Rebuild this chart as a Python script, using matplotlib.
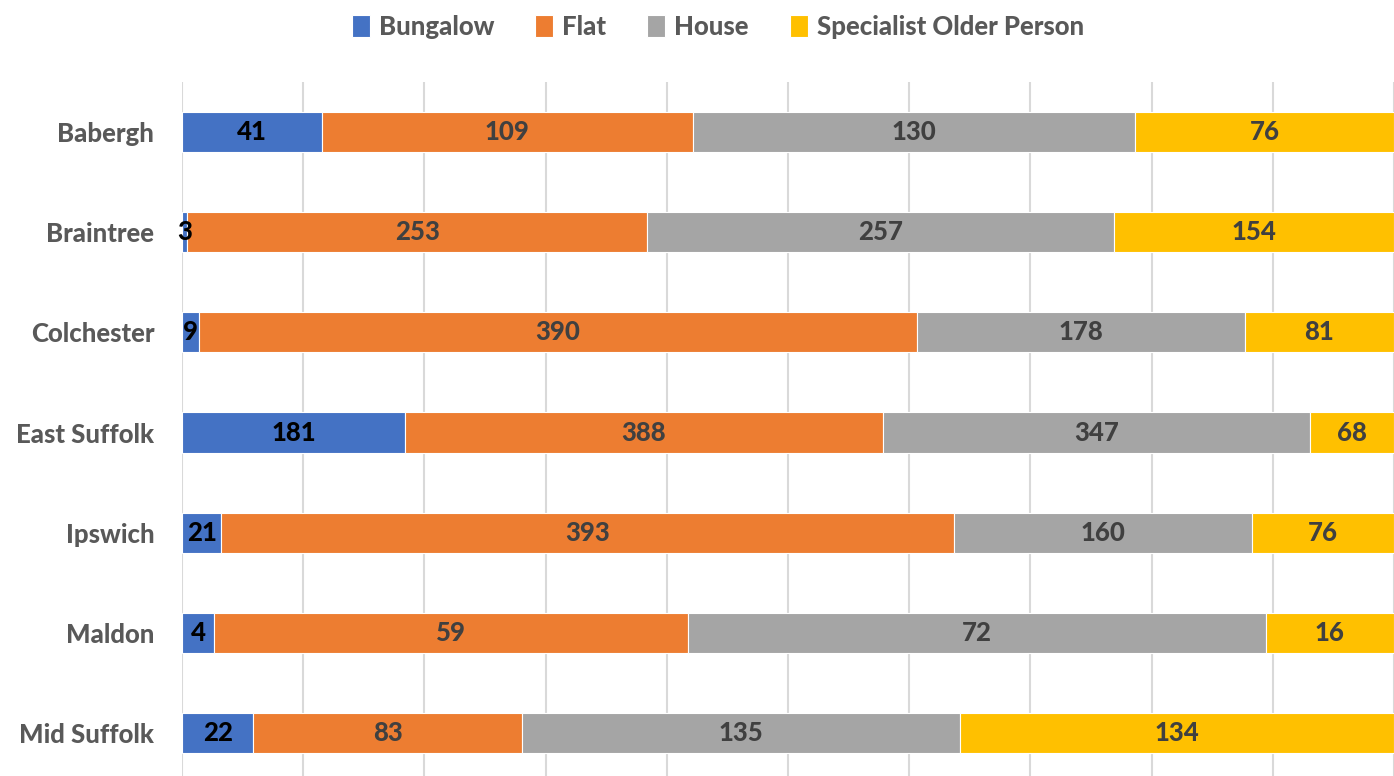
import matplotlib.pyplot as plt
import numpy as np

# ---------------------------------------------------------------------------
# Data
# ---------------------------------------------------------------------------
districts = ["Babergh", "Braintree", "Colchester", "East Suffolk",
             "Ipswich", "Maldon", "Mid Suffolk"]
bungalow = [41, 3, 9, 181, 21, 4, 22]
flat = [109, 253, 390, 388, 393, 59, 83]
house = [130, 257, 178, 347, 160, 72, 135]
specialist = [76, 154, 81, 68, 76, 16, 134]

series_names = ["Bungalow", "Flat", "House", "Specialist Older Person"]
series_colors = ["#4472C4", "#ED7D31", "#A5A5A5", "#FFC000"]
label_colors = ["#000000", "#404040", "#404040", "#404040"]

plt.rcParams["font.family"] = ["Lato", "DejaVu Sans"]
FONT_W = 900
FONT_S = 18.5

# ---------------------------------------------------------------------------
# Plot (100% stacked bars)
# ---------------------------------------------------------------------------
values = np.array([bungalow, flat, house, specialist], dtype=float)
totals = values.sum(axis=0)
shares = values / totals * 100

fig = plt.figure(figsize=(13.94, 7.76), dpi=100)
ax = fig.add_axes([182 / 1394, 0.0, 1 - 182 / 1394, 1 - 82 / 776])

y = np.arange(len(districts))
left = np.zeros(len(districts))
handles = []
for name, color, lcolor, share, raw in zip(series_names, series_colors,
                                           label_colors, shares, values):
    bars = ax.barh(y, share, left=left, height=0.4, color=color,
                   edgecolor="white", linewidth=0.8, label=name, zorder=3)
    handles.append(bars)
    for yi, l, w, v in zip(y, left, share, raw):
        ax.text(l + w / 2, yi, f"{int(v)}", ha="center", va="center",
                fontsize=FONT_S, fontweight=FONT_W, color=lcolor, zorder=4)
    left += share

ax.set_xlim(0, 100)
ax.set_ylim(6.43, -0.5)
ax.set_xticks(np.arange(0, 101, 10))
ax.set_xticklabels([])
ax.tick_params(axis="x", length=0)
ax.tick_params(axis="y", length=0, pad=20)
ax.set_yticks(y)
ax.set_yticklabels(districts, fontsize=FONT_S, fontweight=FONT_W,
                   color="#595959")
ax.grid(axis="x", color="#D9D9D9", linewidth=1.5, zorder=0)
for side in ("top", "right", "bottom", "left"):
    ax.spines[side].set_visible(False)

fig.legend(handles=handles, labels=series_names, loc="center",
           bbox_to_anchor=(718 / 1394, 1 - 27 / 776), ncol=4, frameon=False,
           prop={"size": FONT_S, "weight": FONT_W}, handlelength=0.7,
           handleheight=0.9, handletextpad=0.35, columnspacing=1.6,
           labelcolor="#595959")

fig.savefig("out.png", dpi=100)
